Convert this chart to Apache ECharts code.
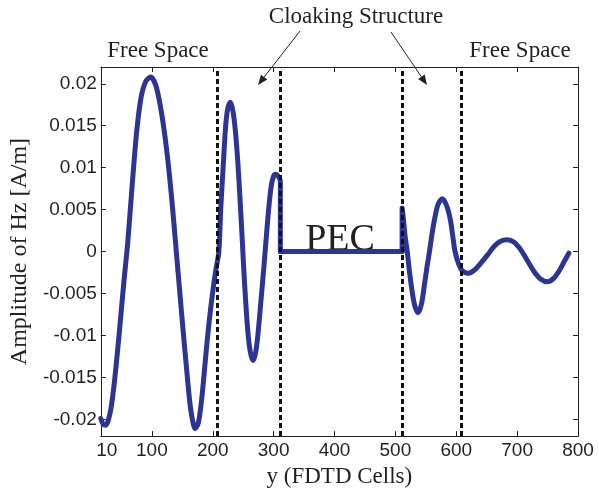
<!DOCTYPE html>
<html>
<head>
<meta charset="utf-8">
<script src="https://cdn.jsdelivr.net/npm/echarts@6/dist/echarts.min.js"></script>
<style>
  html, body { margin: 0; padding: 0; background: #fff; }
  #chart { width: 599px; height: 493px; }
</style>
</head>
<body>
<div id="chart"></div>
<script>
// Hz amplitude along y: free space -> cloak -> PEC (field zero) -> cloak -> free space
const cellsA = [16, 20, 24, 28, 33, 38, 42, 46, 50, 54, 57, 60, 64, 69, 75, 82, 90, 98, 106, 113,
  120, 126, 131, 136, 141, 146, 151, 157, 162, 166, 171, 176, 180, 184, 188, 192.5, 196.5,
  200.5, 205, 210, 213, 217, 221, 224.5, 229, 233, 237, 241, 244.5, 248, 252, 257, 261, 266,
  270, 274, 279, 284, 288, 292, 296, 300, 304, 308, 311, 311];
const ampA = [-0.0199, -0.0206, -0.0207, -0.0202, -0.0186, -0.0158, -0.0130, -0.0100, -0.0068,
  -0.0036, -0.0014, 0.0008, 0.0045, 0.0092, 0.0143, 0.0183, 0.0203, 0.0208, 0.0199, 0.0177,
  0.0145, 0.0110, 0.0075, 0.0035, -0.0008, -0.0050, -0.0092, -0.0140, -0.0178, -0.0198,
  -0.0211, -0.0205, -0.0187, -0.0160, -0.0128, -0.0094, -0.0068, -0.0045, -0.0022, 0,
  0.0050, 0.0100, 0.0148, 0.0170, 0.0178, 0.0168, 0.0145, 0.0108, 0.0066, 0.0020, -0.0035,
  -0.0090, -0.0117, -0.0130, -0.0122, -0.0100, -0.0060, -0.0018, 0.0018, 0.0052, 0.0078,
  0.0090, 0.0092, 0.0089, 0.0084, 0];

const pecCells = [311, 511];
const pecAmp = [0, 0];

const cellsC = [511, 511, 513, 516, 519.5, 523, 527, 532, 537.5, 543, 548, 552, 556, 560,
  564.5, 570, 577, 584, 590, 594, 598, 604, 610, 619, 630, 640, 651.5, 662, 672, 684, 695,
  706, 717, 728, 739, 750, 760, 770, 778, 785];
const ampC = [0, 0.0052, 0.0040, 0.0018, 0, -0.0023, -0.0045, -0.0065, -0.0073, -0.0062,
  -0.0038, -0.0018, 0, 0.0020, 0.0039, 0.0056, 0.0063, 0.0055, 0.0039, 0.0020, 0, -0.0015,
  -0.0023, -0.0026, -0.0022, -0.0014, -0.0004, 0.0006, 0.0012, 0.0014, 0.0011, 0.0002,
  -0.0011, -0.0024, -0.0033, -0.0036, -0.0032, -0.0022, -0.0011, -0.0002];

// region boundaries (dashed)
const boundaries = [208, 311, 511, 609];

// axis ticks
const xTickValues = [100, 200, 300, 400, 500, 600, 700, 800];
const xLabelValues = [16, 100, 200, 300, 400, 500, 600, 700, 800];
const xLabelTexts = ['10', '100', '200', '300', '400', '500', '600', '700', '800'];
const yTickValues = [-0.02, -0.015, -0.01, -0.005, 0, 0.005, 0.01, 0.015, 0.02];
const yTickLabels = ['-0.02', '-0.015', '-0.01', '-0.005', '0', '0.005', '0.01', '0.015', '0.02'];

const INK = '#231f20';
const CURVE = '#2c3593';
const SANS = '"Liberation Sans", Arial, sans-serif';
const SERIF = '"Liberation Serif", "Times New Roman", serif';

const pairs = (xs, ys) => xs.map((x, i) => [x, ys[i]]);

const X_MIN = 16, X_MAX = 800, Y_MIN = -0.022, Y_MAX = 0.022;

const axisLineStyle = { show: true, onZero: false, lineStyle: { color: INK, width: 1 } };
const tickStyle = { show: true, inside: true, length: 5, lineStyle: { color: INK, width: 1 } };

const xLabelFmt = (v) => {
  const i = xLabelValues.findIndex(t => Math.abs(t - v) < 1e-6);
  const s = i >= 0 ? xLabelTexts[i] : String(v);
  return i === 0 ? '{first|' + s + '}' : s;
};
const yLabelFmt = (v) => {
  const i = yTickValues.findIndex(t => Math.abs(t - v) < 1e-9);
  return i >= 0 ? yTickLabels[i] : String(v);
};

const lineSeries = (data, smooth) => ({
  type: 'line',
  data: data,
  smooth: smooth,
  showSymbol: false,
  symbol: 'none',
  silent: true,
  z: 2,
  lineStyle: { color: CURVE, width: 5, cap: 'round', join: 'round' }
});

const caption = (text, x, y, size) => ({
  type: 'text', x: x, y: y, silent: true,
  style: {
    text: text, fontFamily: SERIF, fontSize: size, fontWeight: 'normal',
    fill: INK, align: 'center', verticalAlign: 'middle'
  }
});

// annotation arrows from the "Cloaking Structure" caption
function arrow(x1, y1, x2, y2) {
  const dx = x2 - x1, dy = y2 - y1, len = Math.hypot(dx, dy);
  const ux = dx / len, uy = dy / len, hl = 10, hw = 4;
  const bx = x2 - ux * hl, by = y2 - uy * hl;
  return [
    { type: 'line', silent: true, shape: { x1: x1, y1: y1, x2: bx, y2: by }, style: { stroke: INK, lineWidth: 1 } },
    { type: 'polygon', silent: true, shape: { points: [[x2, y2], [bx - uy * hw, by + ux * hw], [bx + uy * hw, by - ux * hw]] }, style: { fill: INK } }
  ];
}

const chart = echarts.init(document.getElementById('chart'), null, { renderer: 'canvas' });

chart.setOption({
  animation: false,
  backgroundColor: '#fff',
  grid: { left: 97, right: 21, top: 67, bottom: 47, containLabel: false },
  xAxis: [
    {
      type: 'value', min: X_MIN, max: X_MAX, position: 'bottom',
      axisLine: axisLineStyle,
      axisTick: Object.assign({ customValues: xTickValues }, tickStyle),
      splitLine: { show: false },
      axisLabel: {
        customValues: xLabelValues, formatter: xLabelFmt, margin: 5,
        color: INK, fontFamily: SANS, fontSize: 19,
        rich: { first: { fontFamily: SANS, fontSize: 19, color: INK, padding: [0, 0, 0, 12] } }
      },
      name: 'y (FDTD Cells)', nameLocation: 'middle', nameGap: 13,
      nameTextStyle: { color: INK, fontFamily: SERIF, fontSize: 23 }
    },
    {
      type: 'value', min: X_MIN, max: X_MAX, position: 'top',
      axisLine: axisLineStyle,
      axisTick: Object.assign({ customValues: xTickValues }, tickStyle),
      axisLabel: { show: false }, splitLine: { show: false }
    }
  ],
  yAxis: [
    {
      type: 'value', min: Y_MIN, max: Y_MAX, position: 'left',
      axisLine: axisLineStyle,
      axisTick: Object.assign({ customValues: yTickValues }, tickStyle),
      splitLine: { show: false },
      axisLabel: {
        customValues: yTickValues, formatter: yLabelFmt, margin: 4,
        color: INK, fontFamily: SANS, fontSize: 19
      },
      name: 'Amplitude of Hz [A/m]', nameLocation: 'middle', nameGap: 62,
      nameTextStyle: { color: INK, fontFamily: SERIF, fontSize: 24 }
    },
    {
      type: 'value', min: Y_MIN, max: Y_MAX, position: 'right',
      axisLine: axisLineStyle,
      axisTick: Object.assign({ customValues: yTickValues }, tickStyle),
      axisLabel: { show: false }, splitLine: { show: false }
    }
  ],
  series: [
    lineSeries(pairs(cellsA, ampA), 0.3),
    lineSeries(pairs(pecCells, pecAmp), false),
    lineSeries(pairs(cellsC, ampC), 0.3),
    {
      // dashed region boundaries, drawn over the field curve
      type: 'line', data: [], z: 5, silent: true,
      markLine: {
        silent: true, symbol: 'none', animation: false,
        label: { show: false },
        lineStyle: { color: '#111', width: 3, type: [5, 3] },
        data: boundaries.map(b => ({ xAxis: b }))
      }
    }
  ],
  graphic: [
    caption('Free Space', 158, 51, 23),
    caption('Cloaking Structure', 356, 17, 23),
    caption('Free Space', 520, 51, 23),
    caption('PEC', 340, 240, 38)
  ].concat(arrow(300, 31, 258, 85), arrow(391, 32, 427, 85))
});
</script>
</body>
</html>
